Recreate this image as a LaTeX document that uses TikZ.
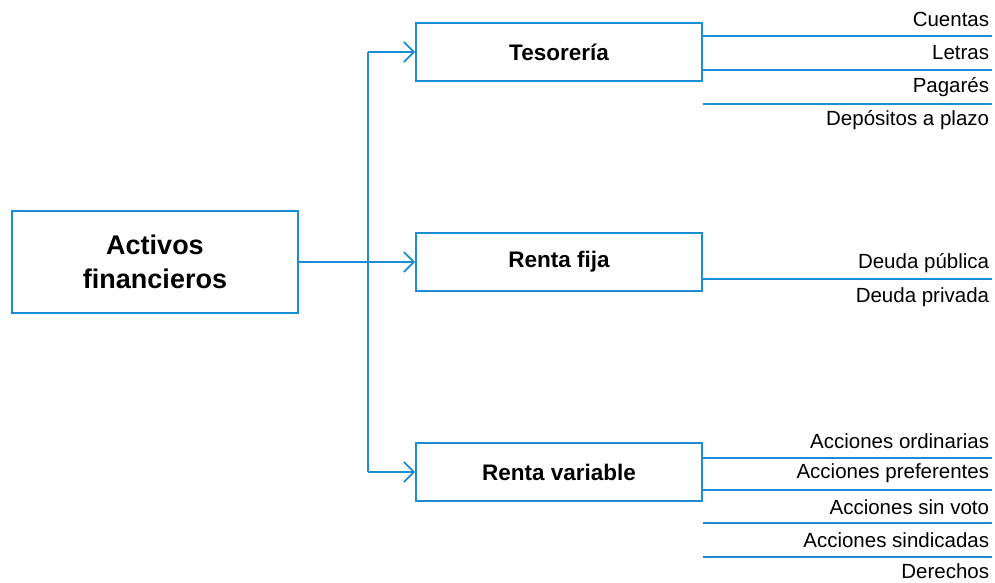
\documentclass[tikz,border=0pt]{standalone}
\usepackage{fontspec}
\setmainfont{Liberation Sans}
\usetikzlibrary{arrows.meta}
\definecolor{lblue}{HTML}{1A8ED2}
\begin{document}
\begin{tikzpicture}[x=1pt,y=-1pt,
  line width=1.8pt,
  box/.style={draw=lblue,line width=1.8pt,minimum width=286pt,inner sep=0pt,align=center,font=\bfseries},
  leaf/.style={anchor=east,inner sep=0pt,font=\fontsize{20.5}{24}\selectfont},
  conn/.style={draw=lblue,line width=1.8pt},
  arr/.style={conn,-{Straight Barb[length=10pt,width=20pt,line width=1.8pt]}}]
\useasboundingbox (0,0) rectangle (995,582);
\node[box,minimum height=102pt,font=\bfseries\fontsize{27}{34}\selectfont] (act) at (155,262) {Activos\\financieros};
\node[box,minimum height=58pt,font=\bfseries\fontsize{22.5}{24}\selectfont] (tes) at (559,52) {Tesorería};
\node[box,minimum height=58pt,font=\bfseries\fontsize{22.5}{24}\selectfont] (fija) at (559,262) {Renta fija};
\node[box,minimum height=58pt,font=\bfseries\fontsize{22.5}{24}\selectfont] (var) at (559,472) {Renta variable};
\coordinate (jt) at (368,52);
\coordinate (jv) at (368,472);
\coordinate (jf) at (368,262);
\draw[conn] (act.east) -- (jf);
\draw[conn] (jt) -- (jv);
\draw[arr] (jt) -- (tes.west);
\draw[arr] (jf) -- (fija.west);
\draw[arr] (jv) -- (var.west);
% Tesoreria leaves
\coordinate (e1) at (992,36);
\coordinate (e2) at (992,70);
\coordinate (e3) at (992,104);
\draw[conn] (tes.east |- e1) -- (e1);
\draw[conn] (tes.east |- e2) -- (e2);
\draw[conn] (tes.east |- e3) -- (e3);
\node[leaf] (t1) at (990,19) {Cuentas};
\node[leaf] (t2) at (990,53) {Letras};
\node[leaf] (t3) at (990,87) {Pagarés};
\node[leaf] (t4) at (990,120) {Depósitos a plazo};
% Renta fija leaves
\coordinate (f1) at (992,279);
\draw[conn] (fija.east |- f1) -- (f1);
\node[leaf] (d1) at (990,263) {Deuda pública};
\node[leaf] (d2) at (990,297) {Deuda privada};
% Renta variable leaves
\coordinate (v1) at (992,458);
\coordinate (v2) at (992,490);
\coordinate (v3) at (992,523);
\coordinate (v4) at (992,557);
\draw[conn] (var.east |- v1) -- (v1);
\draw[conn] (var.east |- v2) -- (v2);
\draw[conn] (var.east |- v3) -- (v3);
\draw[conn] (var.east |- v4) -- (v4);
\node[leaf] (a1) at (990,441) {Acciones ordinarias};
\node[leaf] (a2) at (990,473) {Acciones preferentes};
\node[leaf] (a3) at (990,507) {Acciones sin voto};
\node[leaf] (a4) at (990,540) {Acciones sindicadas};
\node[leaf] (a5) at (990,571) {Derechos};
\end{tikzpicture}
\end{document}
